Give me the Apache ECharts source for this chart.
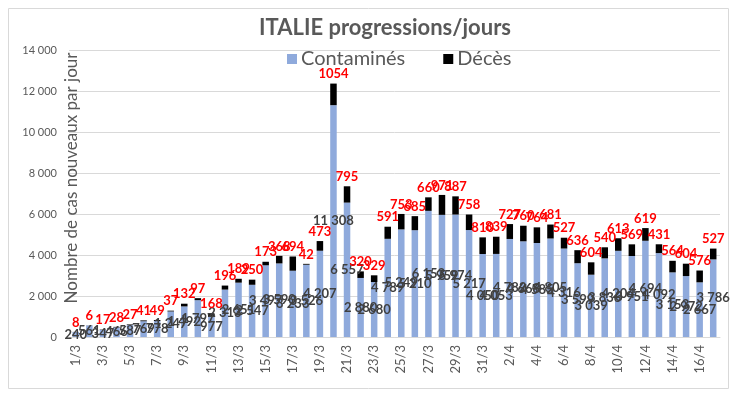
<!DOCTYPE html>
<html>
<head>
<meta charset="utf-8">
<script src="https://cdn.jsdelivr.net/npm/echarts@6/dist/echarts.min.js"></script>
<style>
html,body{margin:0;padding:0;background:#fff;}
#chart{width:739px;height:396px;}
</style>
</head>
<body>
<div id="chart"></div>
<script>
var categories = ['1/3','2/3','3/3','4/3','5/3','6/3','7/3','8/3','9/3','10/3','11/3','12/3','13/3','14/3','15/3','16/3','17/3','18/3','19/3','20/3','21/3','22/3','23/3','24/3','25/3','26/3','27/3','28/3','29/3','30/3','31/3','1/4','2/4','3/4','4/4','5/4','6/4','7/4','8/4','9/4','10/4','11/4','12/4','13/4','14/4','15/4','16/4','17/4'];
var contamines = [240,561,347,466,587,769,778,1247,1492,1797,977,2313,2651,2547,3497,3590,3233,3526,4207,11308,6557,2880,2680,4789,5249,5210,6153,5959,5974,5217,4050,4053,4782,4668,4585,4805,4316,3599,3039,3836,4204,3951,4694,4092,3153,2972,2667,3786];
var deces = [8,6,17,28,27,41,49,37,132,97,168,196,189,250,173,368,694,42,473,1054,795,320,329,591,753,685,660,971,887,758,810,839,727,760,764,681,527,636,604,540,613,569,619,431,564,604,576,527];
var yTicks = [0,2000,4000,6000,8000,10000,12000,14000];

function fmt(v){ return String(v).replace(/\B(?=(\d{3})+(?!\d))/g, ' '); }
var FONT = 'Lato, "Open Sans", sans-serif';
var GRAY = '#595959';

var chart = echarts.init(document.getElementById('chart'));
chart.setOption({
  animation: false,
  textStyle: { fontFamily: FONT },
  title: {
    text: 'ITALIE progressions/jours',
    left: 380, top: 12, textAlign: 'center',
    textStyle: { fontFamily: FONT, fontSize: 22, fontWeight: 'bold', color: GRAY }
  },
  legend: {
    top: 44, left: 282,
    itemWidth: 10, itemHeight: 10, itemGap: 38,
    icon: 'rect',
    textStyle: { fontFamily: FONT, fontSize: 20, color: GRAY, padding: [0,0,0,-1] },
    data: ['Contaminés', 'Décès']
  },
  grid: { left: 69, right: 19, top: 50, bottom: 59, containLabel: false },
  xAxis: {
    type: 'category', data: categories,
    axisLine: { lineStyle: { color: '#D9D9D9' } },
    axisTick: { show: false },
    axisLabel: { interval: 1, rotate: 90, color: GRAY, fontSize: 13, margin: 8, fontFamily: FONT }
  },
  yAxis: {
    type: 'value', min: yTicks[0], max: yTicks[yTicks.length-1], interval: 2000,
    axisLine: { show: false }, axisTick: { show: false },
    splitLine: { lineStyle: { color: '#D9D9D9' } },
    axisLabel: { color: GRAY, fontSize: 11, margin: 12, formatter: fmt, fontFamily: FONT }
  },
  graphic: [
    { type: 'rect', shape: { x: 8.5, y: 8.5, width: 720, height: 380 },
      style: { fill: 'none', stroke: '#D9D9D9', lineWidth: 1 }, z: -1 },
    { type: 'text', x: 72, y: 178, rotation: Math.PI/2,
      style: { text: 'Nombre de cas nouveaux par jour', fill: GRAY, font: '17px ' + FONT,
               align: 'center', verticalAlign: 'middle' }, z: 10 }
  ],
  series: [
    { name: 'Contaminés', type: 'bar', stack: 'tot', data: contamines, barWidth: '48%',
      itemStyle: { color: '#8FAADC' },
      label: { show: true, position: 'inside', color: '#404040', fontSize: 13, fontWeight: 'bold',
               fontFamily: FONT, formatter: function(p){ return fmt(p.value); } } },
    { name: 'Décès', type: 'bar', stack: 'tot', data: deces, barWidth: '48%',
      itemStyle: { color: '#000000' },
      label: { show: true, position: 'top', color: '#FF0000', fontSize: 13, fontWeight: 'bold',
               fontFamily: FONT, distance: 3 } }
  ]
});
</script>
</body>
</html>
